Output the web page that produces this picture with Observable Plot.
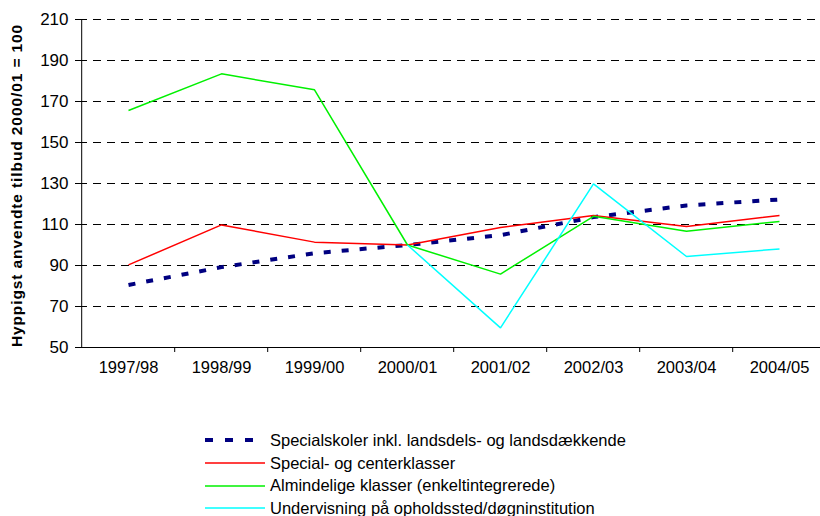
<!DOCTYPE html>
<html>
<head>
<meta charset="utf-8">
<script src="https://cdn.jsdelivr.net/npm/d3@7"></script>
<script src="https://cdn.jsdelivr.net/npm/@observablehq/plot@0.6"></script>
<style>
  html, body { margin: 0; padding: 0; background: #fff; overflow: hidden; }
  body { width: 820px; height: 516px; font-family: "Liberation Sans", Arial, sans-serif; }
  #legend { position: absolute; left: 205px; top: 429px; font-size: 16.5px; color: #000; }
  .row { height: 22.7px; display: flex; align-items: center; white-space: nowrap; }
  .row svg { margin-right: 5px; }
</style>
</head>
<body>
<div id="chart"></div>
<div id="legend"></div>
<script>
const years = ["1997/98","1998/99","1999/00","2000/01","2001/02","2002/03","2003/04","2004/05"];
const specialskoler = [80.5, 89.2, 96, 100, 104.8, 113.6, 119.3, 122.2];
const specialklasser = [90.3, 109.8, 101.4, 100, 108.5, 114.4, 109, 114.4];
const almindelige = [165.6, 183.5, 175.7, 100, 85.8, 114, 106.7, 111.5];
const undervisning = [null, null, null, 100, 59.6, 129.8, 94.4, 98.1];
const seriesNames = [
  "Specialskoler inkl. landsdels- og landsdækkende",
  "Special- og centerklasser",
  "Almindelige klasser (enkeltintegrerede)",
  "Undervisning på opholdssted/døgninstitution"
];
const yTicks = [50, 70, 90, 110, 130, 150, 170, 190, 210];
const yLabel = "Hyppigst anvendte tilbud 2000/01 = 100";

const styles = [
  {stroke: "#000080", strokeWidth: 4, dash: "7,11"},
  {stroke: "#ff0000", strokeWidth: 1.5, dash: null},
  {stroke: "#00f000", strokeWidth: 1.5, dash: null},
  {stroke: "#00ffff", strokeWidth: 1.5, dash: null}
];
const allValues = [specialskoler, specialklasser, almindelige, undervisning];
const rows = [];
allValues.forEach((vals, s) => vals.forEach((v, i) => { if (v != null) rows.push({series: seriesNames[s], year: years[i], value: v}); }));

const W = 820, H = 400, ML = 79, MT = 19, MB = 53;
const step = (828 - ML) / years.length;

const lineMarks = seriesNames.map((name, s) => Plot.line(rows.filter(d => d.series === name), {
  x: "year", y: "value", stroke: styles[s].stroke, strokeWidth: styles[s].strokeWidth,
  strokeDasharray: styles[s].dash || undefined, strokeLinecap: "butt", strokeLinejoin: "miter"
}));

const chart = Plot.plot({
  width: W, height: H,
  marginLeft: ML, marginRight: 0, marginTop: MT, marginBottom: MB,
  style: {fontFamily: "'Liberation Sans', Arial, sans-serif", fontSize: "16px", color: "#000", background: "#fff"},
  x: {type: "point", domain: years, range: [ML, 828], padding: 0.5},
  y: {domain: [50, 210], range: [H - MB, MT]},
  marks: [
    Plot.ruleY(yTicks.slice(1), {stroke: "#000", strokeWidth: 1, strokeDasharray: "8,6"}),
    Plot.axisY({ticks: yTicks, tickSize: 4, tickPadding: 7, fontSize: 17, label: null, stroke: "#000"}),
    Plot.axisX({tickSize: 0, tickPadding: 14, fontSize: 16.5, label: null}),
    Plot.ruleX(years.slice(1), {x: d => d, dx: -step / 2, insetTop: H - MB - MT, insetBottom: -5, stroke: "#000"}),
    Plot.ruleY([50], {stroke: "#000", strokeWidth: 1}),
    Plot.ruleX([years[0]], {x: d => d, dx: -step / 2, stroke: "#000"}),
    ...lineMarks,
    Plot.text([yLabel], {text: d => d, frameAnchor: "left", textAnchor: "middle", dx: -62, dy: 2, rotate: -90, fontWeight: "bold", fontSize: 15.5, fill: "#000", className: "ylab"})
  ]
});
chart.querySelectorAll(".ylab text").forEach(t => t.style.letterSpacing = "0.9px");
document.getElementById("chart").appendChild(chart);

const legend = document.getElementById("legend");
seriesNames.forEach((name, s) => {
  const row = document.createElement("div");
  row.className = "row";
  const st = styles[s];
  row.innerHTML = `<svg width="60" height="8"><line x1="0" y1="4" x2="60" y2="4" stroke="${st.stroke}" stroke-width="${st.dash ? 4 : 1.5}" ${st.dash ? 'stroke-dasharray="8,12"' : ''}/></svg><span>${name}</span>`;
  legend.appendChild(row);
});
</script>
</body>
</html>
